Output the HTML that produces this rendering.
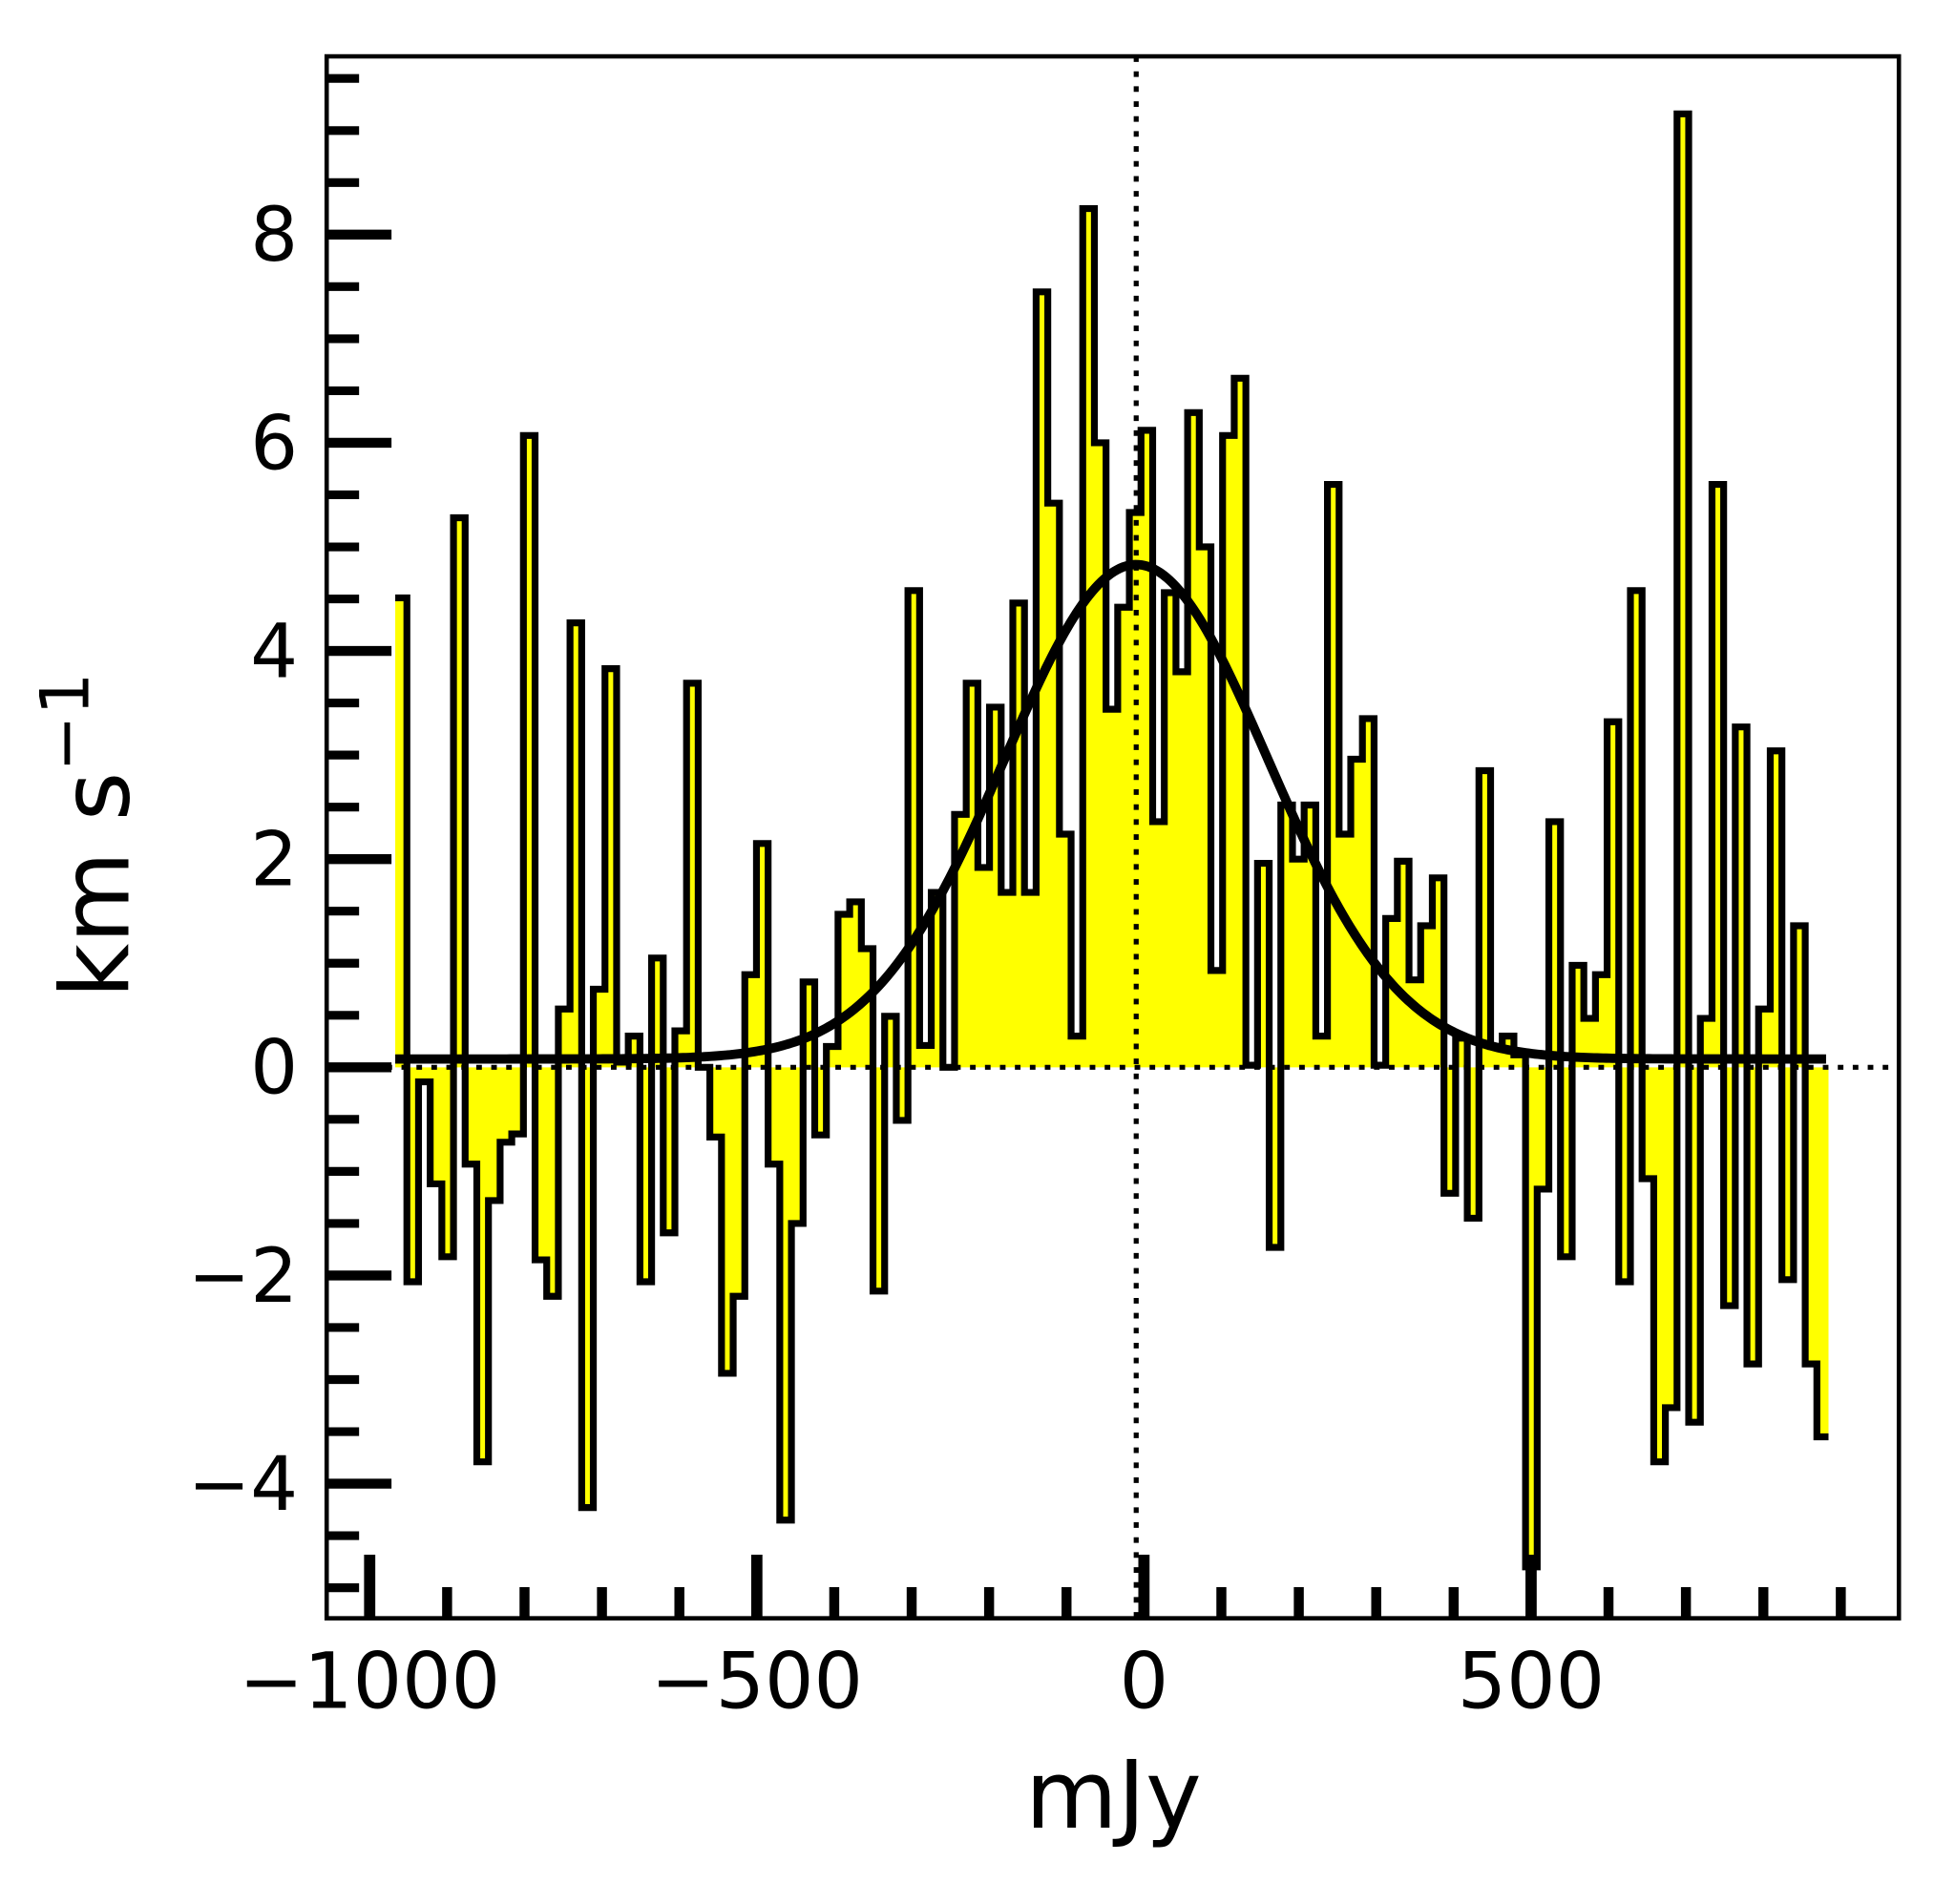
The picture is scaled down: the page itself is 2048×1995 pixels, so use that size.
<!DOCTYPE html>
<html><head><meta charset="utf-8"><style>
html,body{margin:0;padding:0;background:#fff}
svg{display:block}
text{font-family:"DejaVu Sans","Liberation Sans",sans-serif;fill:#000}
</style></head><body>
<svg id="chart" width="2048" height="1995" viewBox="0 0 1568 1527" xmlns="http://www.w3.org/2000/svg">
<defs><clipPath id="plotclip"><rect x="262" y="45" width="1261" height="1253"/></clipPath></defs>
<g id="plot" clip-path="url(#plotclip)"></g>
<g id="axes"></g>
<text x="893" y="1466" font-size="76" text-anchor="middle">mJy</text>
<text transform="translate(103,670) rotate(-90)" font-size="76" text-anchor="middle">km s<tspan dy="-32" font-size="54">−1</tspan></text>
</svg>
<script>
const binStart = -967;
const binWidth = 15.05;
const fluxValues = [4.51,-2.06,-0.14,-1.12,-1.82,5.28,-0.93,-3.79,-1.28,-0.72,-0.64,6.07,-1.85,-2.2,0.56,4.27,-4.23,0.75,3.83,0.05,0.3,-2.06,1.05,-1.59,0.35,3.69,0.0,-0.67,-2.94,-2.2,0.89,
2.15,-0.93,-4.35,-1.5,0.82,-0.65,0.2,1.47,1.59,1.14,-2.15,0.49,-0.51,4.58,0.21,1.68,0.0,2.43,3.69,1.92,3.46,1.68,4.46,1.68,7.45,5.42,2.24,0.3,8.25,6.0,3.44,
4.42,5.33,6.12,2.36,4.56,3.8,6.29,5.0,0.93,6.07,6.62,0.02,1.96,-1.73,2.52,2.0,2.52,0.3,5.6,2.24,2.96,3.35,0.02,1.43,1.98,0.84,1.36,1.82,-1.21,0.28,-1.45,
2.85,0.2,0.3,0.12,-4.8,-1.17,2.36,-1.82,0.98,0.47,0.89,3.32,-2.06,4.58,-1.07,-3.79,-3.27,9.16,-3.41,0.47,5.6,-2.29,3.27,-2.85,0.56,3.04,-2.04,1.36,-2.85,-3.55];
const gaussAmp = 4.75;
const gaussCenter = -10;
const gaussSigma = 170;
const gaussBase = 0.08;
const xTickLabels = [-1000,-500,0,500];
const yTickLabels = [-4,-2,0,2,4,6,8];

const NS="http://www.w3.org/2000/svg";
const X0=917.5, XS=0.621, Y0=856, YS=83.5;
function xs(v){return X0+v*XS;}
function ys(v){return Y0-v*YS;}
function mk(tag,attrs,parent){const e=document.createElementNS(NS,tag);for(const k in attrs)e.setAttribute(k,attrs[k]);parent.appendChild(e);return e;}
const plot=document.getElementById('plot'), axes=document.getElementById('axes');

let stepPts=[], fillPts=[];
fillPts.push([xs(binStart),ys(0)]);
fluxValues.forEach((v,i)=>{
  const a=xs(binStart+i*binWidth), b=xs(binStart+(i+1)*binWidth);
  stepPts.push([a,ys(v)],[b,ys(v)]);
  fillPts.push([a,ys(v)],[b,ys(v)]);
});
fillPts.push([xs(binStart+fluxValues.length*binWidth),ys(0)]);
const fill=mk('polygon',{points:fillPts.map(p=>p.join(',')).join(' '),fill:'#ffff00',stroke:'none'},plot);


const step=mk('polyline',{points:stepPts.map(p=>p.join(',')).join(' '),fill:'none',stroke:'#000','stroke-width':5.5,'stroke-linejoin':'miter'},plot);



const hz=mk('line',{x1:262,x2:1523,y1:ys(0),y2:ys(0),stroke:'#000','stroke-width':4,'stroke-dasharray':'4.5 7.5'},plot);


const vz=mk('line',{x1:xs(gaussCenter),x2:xs(gaussCenter),y1:45,y2:1298,stroke:'#000','stroke-width':4,'stroke-dasharray':'4.5 7.5'},plot);



let gp=[];
const gEnd=binStart+fluxValues.length*binWidth;
for(let x=binStart;x<=gEnd;x+=4){gp.push([xs(x),ys(gaussBase+gaussAmp*Math.exp(-0.5*Math.pow((x-gaussCenter)/gaussSigma,2)))]);}
const g=mk('polyline',{points:gp.map(p=>p.join(',')).join(' '),fill:'none',stroke:'#000','stroke-width':7.5},plot);



const fr=mk('rect',{x:262,y:45,width:1261,height:1253,fill:'none',stroke:'#000','stroke-width':3.5},axes);



for(let v=-5;v<=9.5;v+=0.5){
  const major=yTickLabels.includes(v);
  const t=mk('line',{x1:262,x2:major?314:288,y1:ys(v),y2:ys(v),stroke:'#000','stroke-width':major?8:7},axes);
  
  
}
yTickLabels.forEach(v=>{
  const t=mk('text',{x:239,y:ys(v)+21,'font-size':60,'text-anchor':'end'},axes);
  t.textContent=(v<0?'−':'')+Math.abs(v);
  
  
});
for(let v=-1000;v<=900;v+=100){
  const major=xTickLabels.includes(v);
  const t=mk('line',{x1:xs(v),x2:xs(v),y1:1298,y2:major?1247:1273,stroke:'#000','stroke-width':major?9:8},axes);
  
  
}
xTickLabels.forEach(v=>{
  const t=mk('text',{x:xs(v),y:1370,'font-size':62,'text-anchor':'middle'},axes);
  t.textContent=(v<0?'−':'')+Math.abs(v);
  
  
});
</script>
</body></html>
